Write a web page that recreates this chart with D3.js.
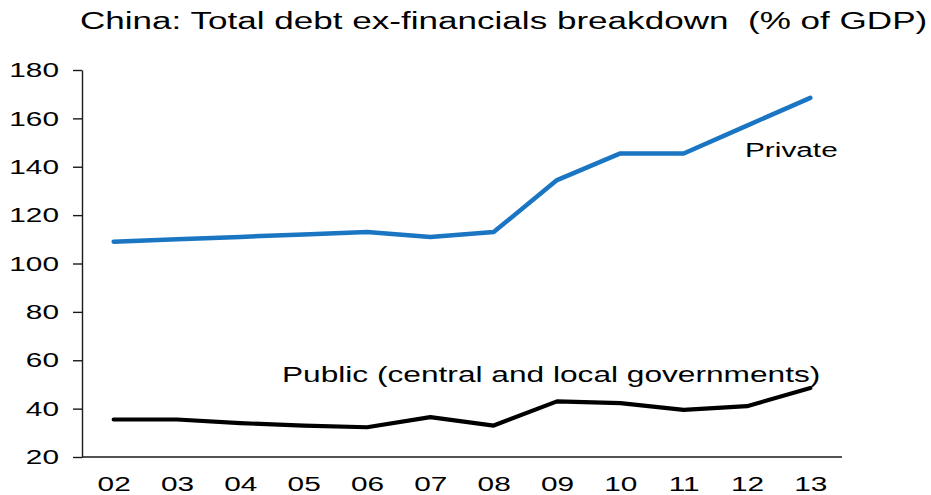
<!DOCTYPE html>
<html>
<head>
<meta charset="utf-8">
<script src="https://cdn.jsdelivr.net/npm/d3@7"></script>
<style>
  html, body { margin: 0; padding: 0; background: #fff; }
  svg { display: block; }
  text { font-family: "Liberation Sans", Arial, Helvetica, sans-serif; fill: #000; white-space: pre; }
</style>
</head>
<body>
<svg id="chart" width="931" height="495"></svg>
<script>
// Fiscal years shown on the x axis
const years = ["02", "03", "04", "05", "06", "07", "08", "09", "10", "11", "12", "13"];
// Private-sector debt, % of GDP
const privateDebt = [109, 110, 111, 112, 113, 111, 113, 134.5, 145.5, 145.5, 157, 168.5];
// Public debt (central and local governments), % of GDP
const publicDebt = [35.5, 35.5, 34, 33, 32.3, 36.5, 33, 43, 42.3, 39.5, 41, 48.5];
// Y axis tick values
const yTicks = [20, 40, 60, 80, 100, 120, 140, 160, 180];

const titleText = "China: Total debt ex-financials breakdown  (% of GDP)";
const privateLabel = "Private";
const publicLabel = "Public (central and local governments)";

// Type in this chart is set wide; every text run gets the same horizontal stretch
const SX = 1.42;

const svg = d3.select("#chart");
const plotLeft = 82, plotRight = 842, plotTop = 70, plotBottom = 457;

const x = d3.scalePoint().domain(years).range([plotLeft, plotRight]).padding(0.5);
const y = d3.scaleLinear().domain([20, 180]).range([plotBottom, plotTop]);

function widen(sel) {
  sel.each(function () {
    const t = d3.select(this);
    const x0 = +t.attr("x") || 0;
    t.attr("x", x0 / SX).attr("transform", `scale(${SX},1)`);
  });
}

// Title
svg.append("text")
  .attr("x", 80).attr("y", 29)
  .attr("xml:space", "preserve")
  .style("font-size", "24.7px")
  .text(titleText)
  .call(widen);

// Y axis
const gy = svg.append("g")
  .attr("transform", `translate(${plotLeft},0)`)
  .call(d3.axisLeft(y).tickValues(yTicks).tickSize(9).tickSizeOuter(0).tickPadding(14).tickFormat(d3.format("d")));
gy.select(".domain").attr("stroke", "#1a1a1a").attr("stroke-width", 1.4);
gy.selectAll(".tick line").attr("stroke", "#1a1a1a").attr("stroke-width", 1.4);
gy.selectAll(".tick text").style("font-size", "21px").attr("fill", "#000").call(widen);

// X axis
const gx = svg.append("g")
  .attr("transform", `translate(0,${plotBottom})`)
  .call(d3.axisBottom(x).tickSize(0).tickSizeOuter(0).tickPadding(19));
gx.select(".domain").attr("stroke", "#1a1a1a").attr("stroke-width", 1.4)
  .attr("d", `M${plotLeft},0H${plotRight}`);
gx.selectAll(".tick text").style("font-size", "21px").attr("fill", "#000").call(widen);

const line = d3.line()
  .x((d, i) => x(years[i]))
  .y(d => y(d));

// Private debt line
svg.append("path")
  .datum(privateDebt)
  .attr("fill", "none")
  .attr("stroke", "#1a75c2")
  .attr("stroke-width", 4.5)
  .attr("stroke-linejoin", "round")
  .attr("stroke-linecap", "round")
  .attr("d", line);

// Public debt line
svg.append("path")
  .datum(publicDebt)
  .attr("fill", "none")
  .attr("stroke", "#000")
  .attr("stroke-width", 4.2)
  .attr("stroke-linejoin", "round")
  .attr("stroke-linecap", "round")
  .attr("d", line);

// Series labels
svg.append("text")
  .attr("x", 745).attr("y", 157)
  .style("font-size", "21px")
  .text(privateLabel)
  .call(widen);

svg.append("text")
  .attr("x", 282).attr("y", 382)
  .style("font-size", "22.3px")
  .text(publicLabel)
  .call(widen);
</script>
</body>
</html>
